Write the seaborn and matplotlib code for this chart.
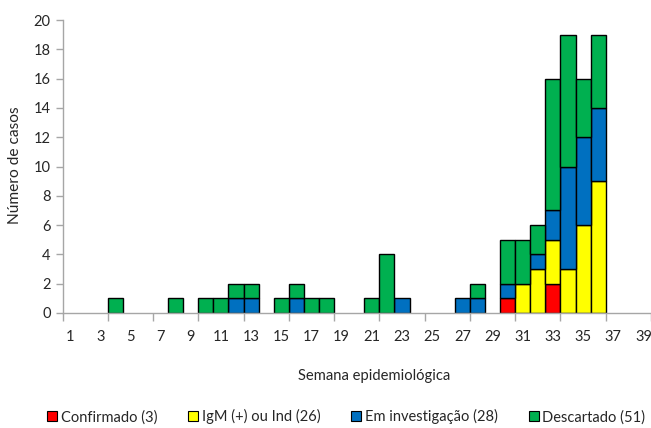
import numpy as np
import pandas as pd
import matplotlib
matplotlib.use("Agg")
import matplotlib.pyplot as plt
from matplotlib.patches import Patch
import seaborn as sns

weeks = list(range(1, 40))
confirmado = {30: 1, 33: 2}
igm = {31: 2, 32: 3, 33: 3, 34: 3, 35: 6, 36: 9}
em_invest = {12: 1, 13: 1, 16: 1, 23: 1, 27: 1, 28: 1, 30: 1, 32: 1, 33: 2, 34: 7, 35: 6, 36: 5}
descartado = {4: 1, 8: 1, 10: 1, 11: 1, 12: 1, 13: 1, 15: 1, 16: 1, 17: 1, 18: 1,
              21: 1, 22: 4, 28: 1, 30: 3, 31: 3, 32: 2, 33: 9, 34: 9, 35: 4, 36: 5}
labels = ["Confirmado (3)", "IgM (+) ou Ind (26)", "Em investigação (28)", "Descartado (51)"]
colors = ["#FF0000", "#FFFF00", "#0070C0", "#00B050"]
x_tick_labels = [str(w) for w in range(1, 40, 2)]
y_ticks = list(range(0, 21, 2))

series = [confirmado, igm, em_invest, descartado]
rows = []
for lab, s in zip(labels, series):
    for w in weeks:
        rows.append({"week": w, "cat": lab, "n": s.get(w, 0)})
df = pd.DataFrame(rows)

sns.set_style("white")
plt.rcParams["font.family"] = ["Lato", "DejaVu Sans"]

fig = plt.figure(figsize=(6.51, 4.28), dpi=100)
ax = fig.add_axes([62.5 / 651, 1 - 313 / 428, (651 - 62.5) / 651, 293 / 428])

sns.histplot(data=df, x="week", weights="n", hue="cat", hue_order=labels[::-1],
             multiple="stack", discrete=True, shrink=1.0,
             palette=dict(zip(labels, colors)), alpha=1, edgecolor="black",
             linewidth=1.0, legend=False, ax=ax)

for p in ax.patches:
    if p.get_height() <= 0:
        p.set_visible(False)

ax.set_xlim(0.5, 39.5)
ax.set_ylim(0, 20)
ax.set_yticks(y_ticks)
ax.set_xticks(list(range(1, 40, 2)))
ax.set_xticklabels(x_tick_labels)
ax.set_xticks(np.arange(0.5, 40, 3), minor=True)
ax.tick_params(axis="x", which="major", length=0, pad=12, labelsize=10.5, colors="#262626")
ax.tick_params(axis="x", which="minor", length=6, width=1, color="#A6A6A6", direction="out", bottom=True)
ax.tick_params(axis="y", length=5, width=1, color="#A6A6A6", direction="out", left=True, labelsize=10.5, colors="#262626")
for s in ["top", "right"]:
    ax.spines[s].set_visible(False)
for s in ["left", "bottom"]:
    ax.spines[s].set_color("#A6A6A6")
    ax.spines[s].set_linewidth(1)

ax.set_xlabel("Semana epidemiológica", fontsize=10.6, color="#262626")
ax.xaxis.set_label_coords(0.53, -0.19)
ax.set_ylabel("Número de casos", fontsize=11.2, color="#262626")
ax.yaxis.set_label_coords(-0.068, 0.505)

handles = [Patch(facecolor=c, edgecolor="black", linewidth=0.8) for c in colors]
fig.legend(handles, labels, loc="lower center", bbox_to_anchor=(0.532, -0.022), ncol=4,
           frameon=False, fontsize=10.5, handlelength=0.7, handleheight=0.7,
           handletextpad=0.25, columnspacing=2.1)

fig.savefig("out.png", dpi=100)
